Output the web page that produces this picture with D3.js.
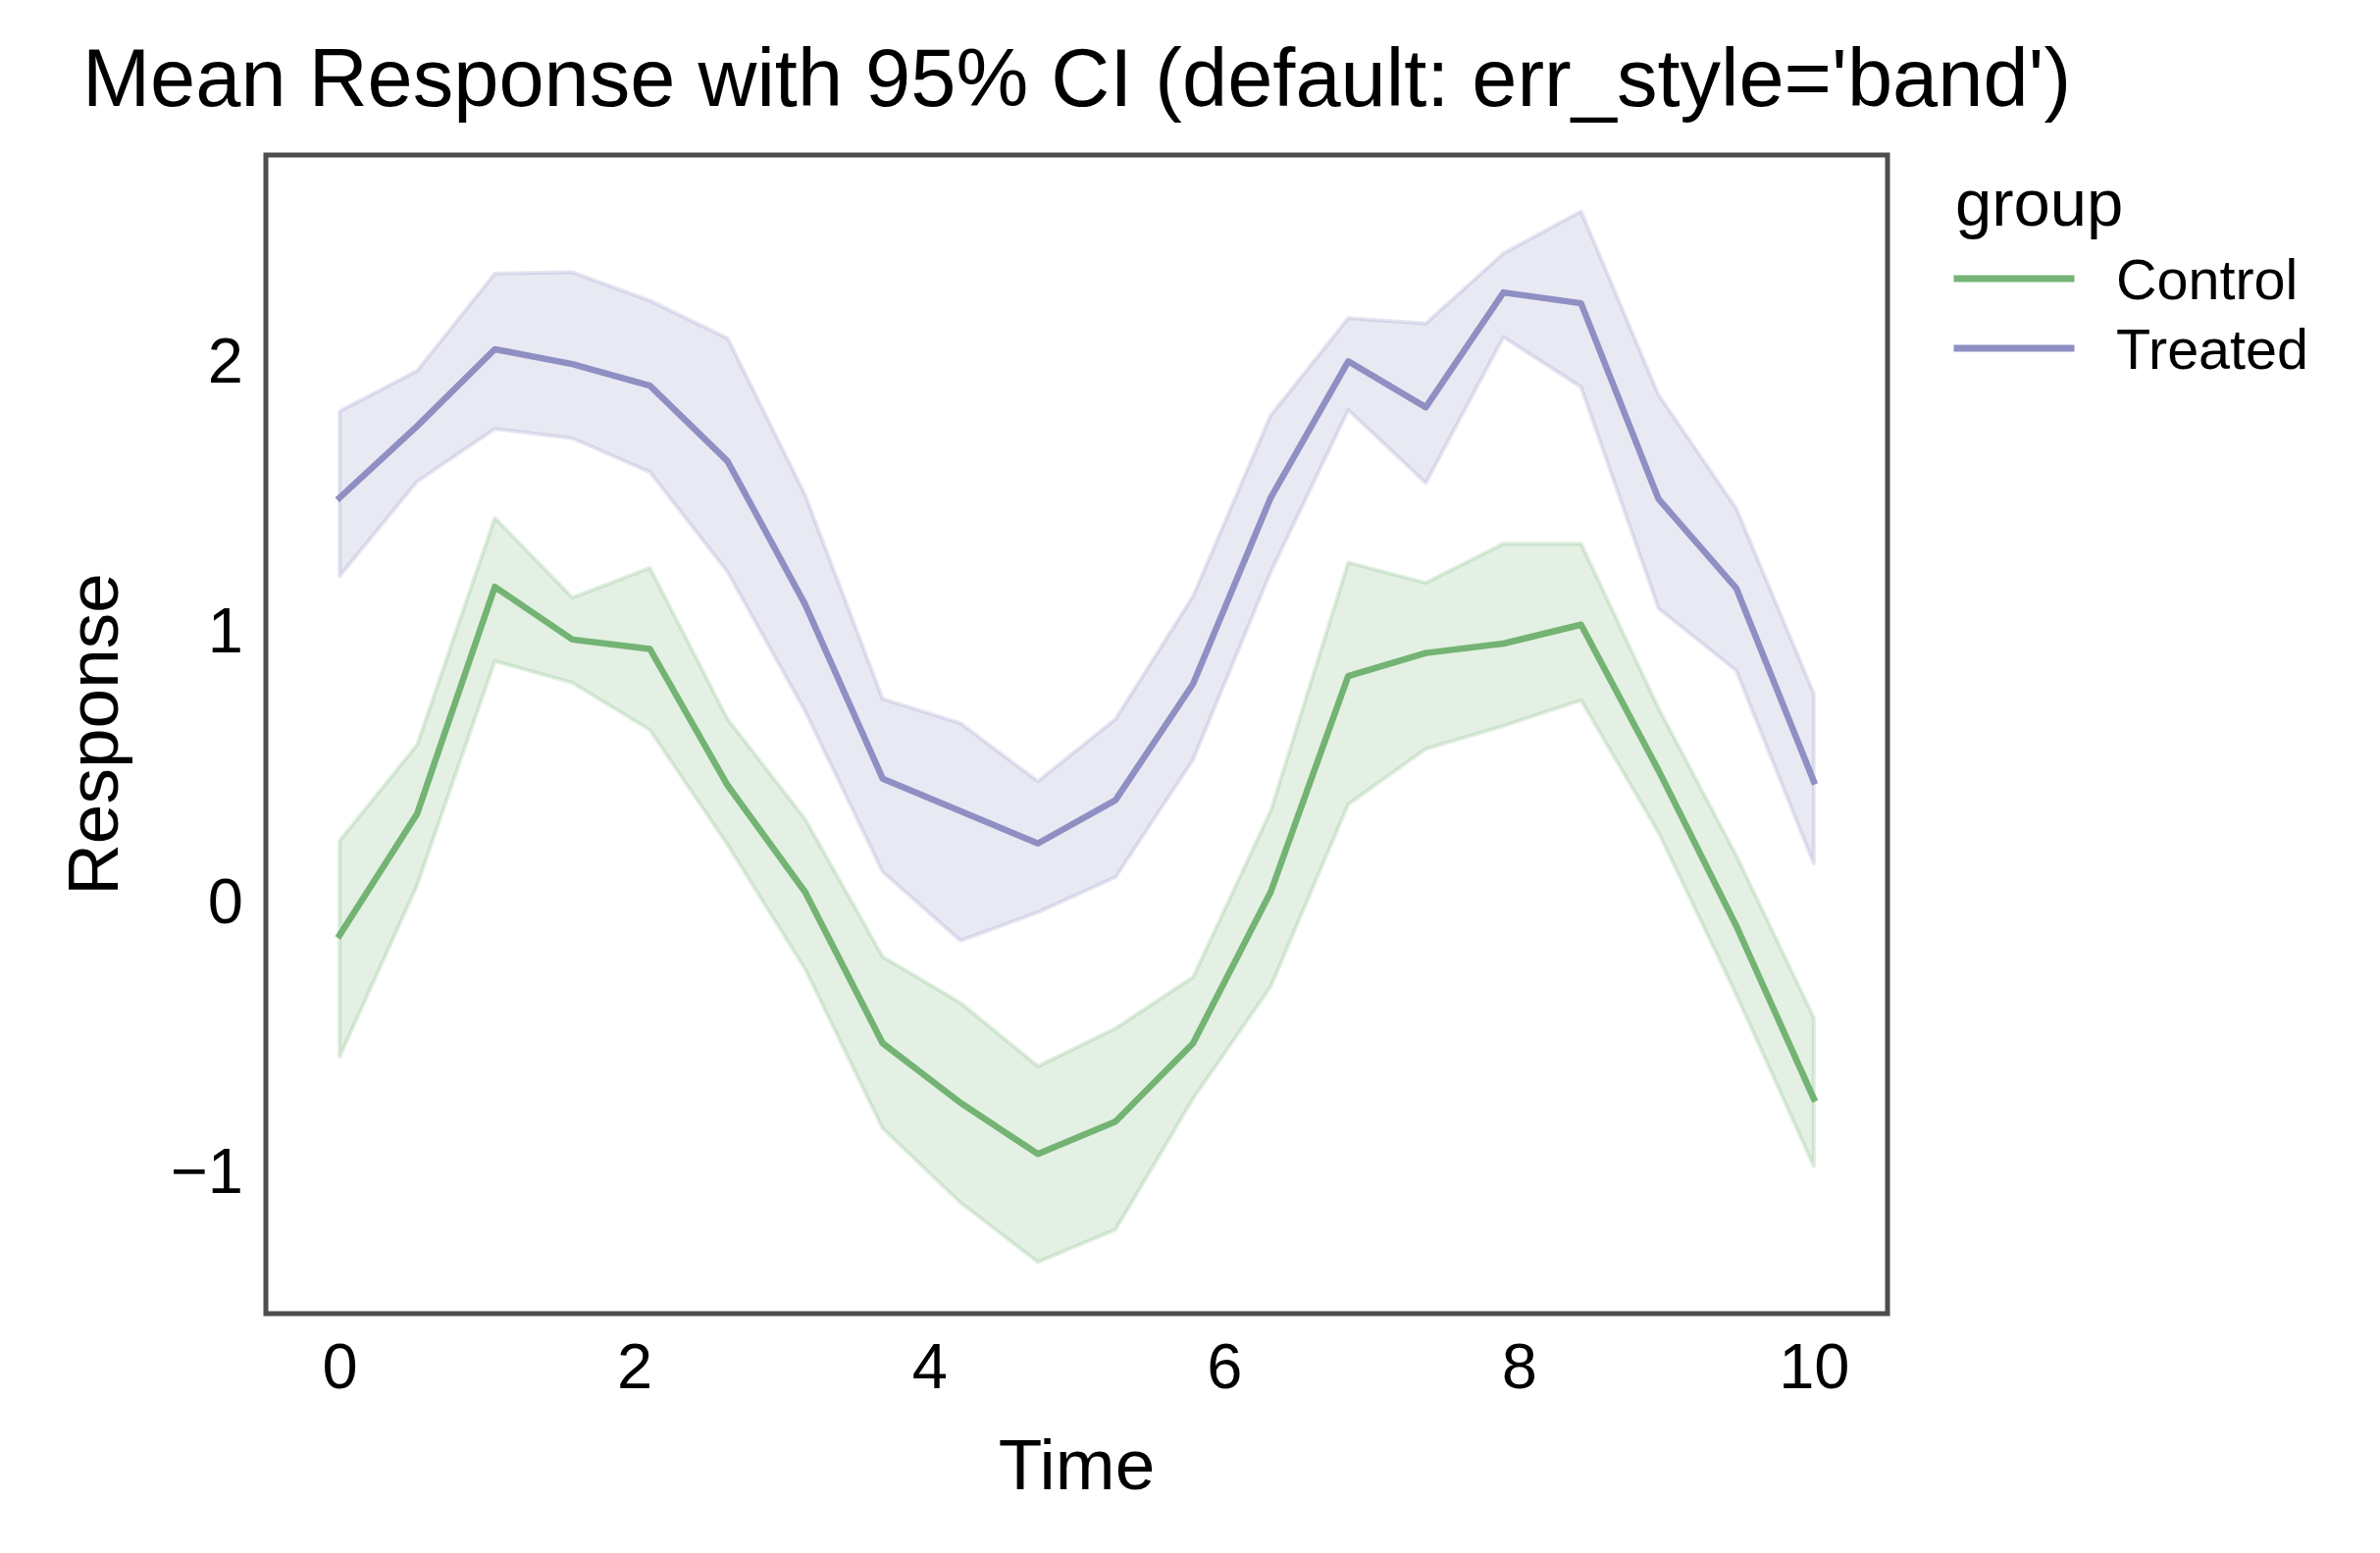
<!DOCTYPE html>
<html>
<head>
<meta charset="utf-8">
<script src="https://cdn.jsdelivr.net/npm/d3@7"></script>
<style>
  html, body { margin: 0; padding: 0; background: #ffffff; }
  svg { display: block; }
  text { font-family: "Liberation Sans", Arial, Helvetica, sans-serif; fill: #000; }
</style>
</head>
<body>
<svg id="chart" width="2426" height="1583"></svg>
<script>
// ---- data ----
const time = [0, 0.526, 1.053, 1.579, 2.105, 2.632, 3.158, 3.684, 4.211, 4.737,
              5.263, 5.789, 6.316, 6.842, 7.368, 7.895, 8.421, 8.947, 9.474, 10];

const controlMean  = [-0.13, 0.32, 1.16, 0.965, 0.93, 0.425, 0.03, -0.53, -0.75, -0.94,
                      -0.82, -0.53, 0.03, 0.83, 0.915, 0.95, 1.02, 0.48, -0.095, -0.735];
const controlUpper = [0.22, 0.575, 1.415, 1.12, 1.23, 0.67, 0.30, -0.21, -0.38, -0.615,
                      -0.475, -0.285, 0.33, 1.25, 1.175, 1.32, 1.32, 0.71, 0.165, -0.435];
const controlLower = [-0.58, 0.055, 0.885, 0.805, 0.63, 0.205, -0.255, -0.845, -1.12, -1.34,
                      -1.22, -0.735, -0.32, 0.355, 0.56, 0.645, 0.74, 0.25, -0.35, -0.985];

const treatedMean  = [1.49, 1.755, 2.04, 1.985, 1.905, 1.625, 1.095, 0.45, 0.33, 0.21,
                      0.37, 0.80, 1.49, 1.995, 1.825, 2.25, 2.21, 1.485, 1.155, 0.44];
const treatedUpper = [1.81, 1.96, 2.32, 2.325, 2.22, 2.08, 1.50, 0.745, 0.655, 0.44,
                      0.67, 1.125, 1.795, 2.155, 2.135, 2.395, 2.55, 1.87, 1.45, 0.765];
const treatedLower = [1.20, 1.55, 1.745, 1.71, 1.585, 1.215, 0.70, 0.105, -0.15, -0.045,
                      0.085, 0.52, 1.215, 1.815, 1.545, 2.085, 1.90, 1.08, 0.85, 0.135];

const groups = ["Control", "Treated"];
const groupColors = ["#74b374", "#8f8fc4"];
const xTicks = [0, 2, 4, 6, 8, 10];
const yTicks = [-1, 0, 1, 2];

const titleText = "Mean Response with 95% CI (default: err_style='band')";
const xLabel = "Time";
const yLabel = "Response";
const legendTitle = "group";

// ---- layout ----
const plot = { left: 271, right: 1924, top: 158, bottom: 1339 };
const svg = d3.select("#chart");

const x = d3.scaleLinear().domain([-0.5, 10.5]).range([plot.left, plot.right]);
const y = d3.scaleLinear().domain([-1.531, 2.759]).range([plot.bottom, plot.top]);

const seriesData = [
  { name: groups[0], color: groupColors[0], mean: controlMean, lo: controlLower, hi: controlUpper },
  { name: groups[1], color: groupColors[1], mean: treatedMean, lo: treatedLower, hi: treatedUpper }
];

const line = d3.line().x((d, i) => x(time[i])).y(d => y(d));
const area = d3.area()
  .x(d => x(d.t))
  .y0(d => y(d.lo))
  .y1(d => y(d.hi));

const g = svg.append("g");
seriesData.forEach(s => {
  g.append("path")
    .attr("d", line(s.mean))
    .attr("fill", "none")
    .attr("stroke", s.color)
    .attr("stroke-width", 6.5)
    .attr("stroke-linecap", "square")
    .attr("stroke-linejoin", "round");
  const bandPts = time.map((t, i) => ({ t: t, lo: s.lo[i], hi: s.hi[i] }));
  g.append("path")
    .attr("d", area(bandPts))
    .attr("fill", s.color)
    .attr("fill-opacity", 0.2)
    .attr("stroke", s.color)
    .attr("stroke-opacity", 0.22)
    .attr("stroke-width", 4)
    .attr("stroke-linejoin", "round");
});

// ---- axes ----
const xAxis = svg.append("g")
  .attr("transform", `translate(0,${plot.bottom})`)
  .call(d3.axisBottom(x).tickValues(xTicks).tickFormat(d3.format("d")).tickSize(0).tickPadding(30));
xAxis.select(".domain").remove();
xAxis.selectAll("text")
  .style("font-family", '"Liberation Sans", Arial, sans-serif')
  .style("font-size", "65px")
  .attr("fill", "#000");

const yAxis = svg.append("g")
  .attr("transform", `translate(${plot.left},0)`)
  .call(d3.axisLeft(y).tickValues(yTicks).tickFormat(d3.format("d")).tickSize(0).tickPadding(23));
yAxis.select(".domain").remove();
yAxis.selectAll("text")
  .style("font-family", '"Liberation Sans", Arial, sans-serif')
  .style("font-size", "65px")
  .attr("dy", "0.35em")
  .attr("fill", "#000");

// frame
svg.append("rect")
  .attr("x", plot.left).attr("y", plot.top)
  .attr("width", plot.right - plot.left).attr("height", plot.bottom - plot.top)
  .attr("fill", "none")
  .attr("stroke", "#4d4d4d")
  .attr("stroke-width", 5);

// ---- labels ----
const cx = (plot.left + plot.right) / 2;
svg.append("text")
  .attr("x", cx).attr("y", 108)
  .attr("text-anchor", "middle")
  .style("font-size", "83px")
  .text(titleText);

svg.append("text")
  .attr("x", cx).attr("y", 1518)
  .attr("text-anchor", "middle")
  .style("font-size", "73px")
  .text(xLabel);

svg.append("text")
  .attr("transform", `translate(120,${(plot.top + plot.bottom) / 2}) rotate(-90)`)
  .attr("text-anchor", "middle")
  .style("font-size", "73px")
  .text(yLabel);

// ---- legend ----
const leg = svg.append("g");
leg.append("text")
  .attr("x", 1993).attr("y", 230)
  .style("font-size", "67px")
  .text(legendTitle);

const legY = [284, 355];
seriesData.forEach((s, i) => {
  leg.append("line")
    .attr("x1", 1995).attr("x2", 2111)
    .attr("y1", legY[i]).attr("y2", legY[i])
    .attr("stroke", s.color)
    .attr("stroke-width", 7)
    .attr("stroke-linecap", "square");
  leg.append("text")
    .attr("x", 2157).attr("y", legY[i] + 21)
    .style("font-size", "57.5px")
    .text(s.name);
});
</script>
</body>
</html>
